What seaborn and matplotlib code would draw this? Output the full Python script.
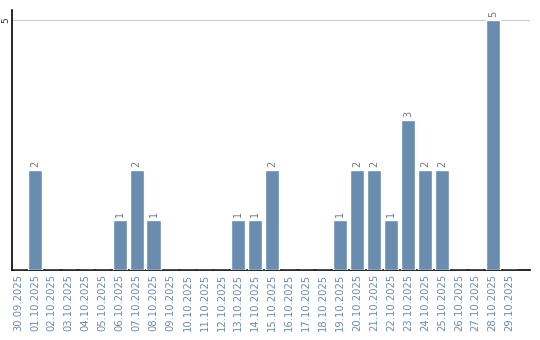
import matplotlib
matplotlib.use("Agg")
import matplotlib.pyplot as plt
import seaborn as sns
import pandas as pd

dates = ["30.09.2025", "01.10.2025", "02.10.2025", "03.10.2025", "04.10.2025", "05.10.2025",
         "06.10.2025", "07.10.2025", "08.10.2025", "09.10.2025", "10.10.2025", "11.10.2025",
         "12.10.2025", "13.10.2025", "14.10.2025", "15.10.2025", "16.10.2025", "17.10.2025",
         "18.10.2025", "19.10.2025", "20.10.2025", "21.10.2025", "22.10.2025", "23.10.2025",
         "24.10.2025", "25.10.2025", "26.10.2025", "27.10.2025", "28.10.2025", "29.10.2025"]
counts = [0, 2, 0, 0, 0, 0, 1, 2, 1, 0, 0, 0, 0, 1, 1, 2, 0, 0, 0, 1, 2, 2, 1, 3, 2, 2, 0, 0, 5, 0]
yticks = [5]

sns.set_style("white")
plt.rcParams['font.family'] = ['DejaVu Sans']

df = pd.DataFrame({"date": dates, "count": counts})

fig = plt.figure(figsize=(5.4, 3.4), dpi=100)
ax = fig.add_axes([12/540, 70/340, 518/540, 260/340])

bar_color = "#6a8caf"
sns.barplot(data=df, x="date", y="count", order=dates, color=bar_color,
            saturation=1, width=0.84, ax=ax, zorder=3)

ax.set_ylim(0, 5.2)
ax.set_xlim(-0.35, 30.2)
ax.set_yticks(yticks)
ax.set_yticklabels([str(v) for v in yticks], rotation=90, va="center", fontsize=6.5, color="#333333")
ax.yaxis.grid(True, color="#cccccc", linewidth=0.8, zorder=0)
ax.xaxis.grid(False)
ax.tick_params(axis="y", length=0, pad=1.5)
ax.tick_params(axis="x", length=0, pad=3)
ax.set_xticks(range(len(dates)))
ax.set_xticklabels(dates, rotation=90, fontsize=7.2, color="#6b8cb0")
ax.set_xlabel("")
ax.set_ylabel("")

for side in ["top", "right"]:
    ax.spines[side].set_visible(False)
for side in ["left", "bottom"]:
    ax.spines[side].set_visible(True)
    ax.spines[side].set_color("black")
    ax.spines[side].set_linewidth(1.2)

for i, v in enumerate(counts):
    if v > 0:
        ax.annotate(str(v), (i, v), xytext=(0, 2), textcoords="offset points",
                    rotation=90, ha="center", va="bottom", fontsize=7, color="#707a85")

fig.savefig("out.png", dpi=100)
